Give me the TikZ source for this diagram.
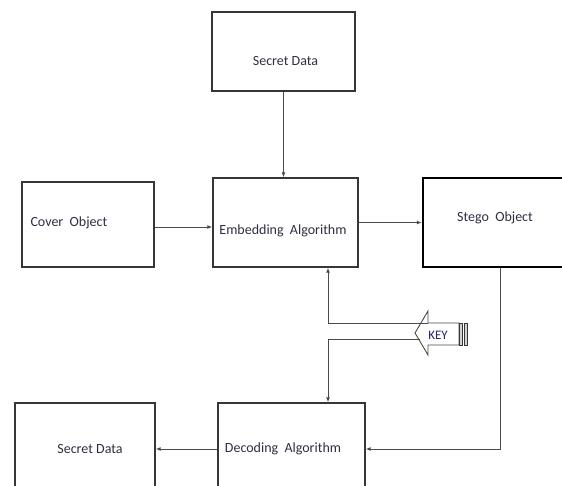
\documentclass[tikz,border=0pt]{standalone}
\usepackage{fontspec}
\setmainfont{Carlito}
\usepackage{tikz}
\usetikzlibrary{arrows.meta,positioning,calc}
\definecolor{stgline}{HTML}{4A4A4A}
\definecolor{stgbox}{HTML}{363636}
\definecolor{stgtext}{HTML}{2E3040}

\begin{document}
\begin{tikzpicture}[
  x=1pt, y=-1pt,
  >={Latex[length=5pt,width=4pt]},
  every node/.style={font=\fontsize{14}{16}\selectfont, text=stgtext},
  box/.style={draw=stgbox, line width=1.3pt, fill=white, inner sep=0pt},
  bigbox/.style={draw=black, line width=2.4pt, fill=white, inner sep=0pt},
  arr/.style={->, draw=stgline, line width=1pt}
]
\useasboundingbox (0,0) rectangle (562,485);
\clip (0,0) rectangle (562,485);

%% ── BOXES ───────────────────────────────────────────────────────
\node[box, minimum width=143pt, minimum height=79pt] (secret) at (283.5,51.5) {};
\node (secrettxt) at (285.5,61) {Secret Data};

\node[box, minimum width=132pt, minimum height=85pt] (cover) at (88,224.5) {};
\node[anchor=west] (covertxt) at (27,223) {Cover\ \ Object};

\node[box, minimum width=145pt, minimum height=89pt] (emb) at (285.5,222.5) {};
\node (embtxt) at (283,231) {Embedding\ \ Algorithm};

\node[bigbox, minimum width=154pt, minimum height=89pt] (stego) at (500,222.5) {};
\node (stegotxt) at (495,218) {Stego\ \ Object};

\node[box, minimum width=147pt, minimum height=92pt] (dec) at (291.5,449) {};
\node (dectxt) at (283,449) {Decoding\ \ Algorithm};

\node[box, minimum width=140pt, minimum height=92pt] (secret2) at (85,449) {};
\node (secret2txt) at (90,449) {Secret Data};

%% ── KEY (striped block arrow) ───────────────────────────────────
\draw[stgline, line width=0.9pt, fill=white]
  (415,333) -- (428,311) -- (428,323) -- (459,323) -- (459,345)
  -- (428,345) -- (428,355) -- cycle;
\draw[stgbox, line width=0.8pt, fill=gray!35] (459.5,323) rectangle (462.5,345);
\draw[stgbox, line width=0.8pt, fill=gray!35] (464,323) rectangle (467,345);
\node[font=\fontsize{13}{15}\selectfont, text=stgtext!75!blue] (keytxt) at (438,335) {KEY};

\coordinate (kup) at (428,323);
\coordinate (kdn) at (420,339);
\coordinate (jup) at (328,323);
\coordinate (jdn) at (328,339);

%% ── CONNECTORS ──────────────────────────────────────────────────
\draw[arr] (secret.south) -- (secret.south |- emb.north);
\draw[arr] (cover.east |- 0,227) -- (emb.west |- 0,227);
\draw[arr] (emb.east) -- (emb.east -| stego.west);
\draw[stgline, line width=1pt] (kup) -- (jup);
\draw[arr] (jup) -- (jup |- emb.south);
\draw[stgline, line width=1pt] (kdn) -- (jdn);
\draw[arr] (jdn) -- (jdn |- dec.north);
\draw[arr] (stego.south) |- (dec.east);
\draw[arr] (dec.west) -- (secret2.east);

\end{tikzpicture}
\end{document}
